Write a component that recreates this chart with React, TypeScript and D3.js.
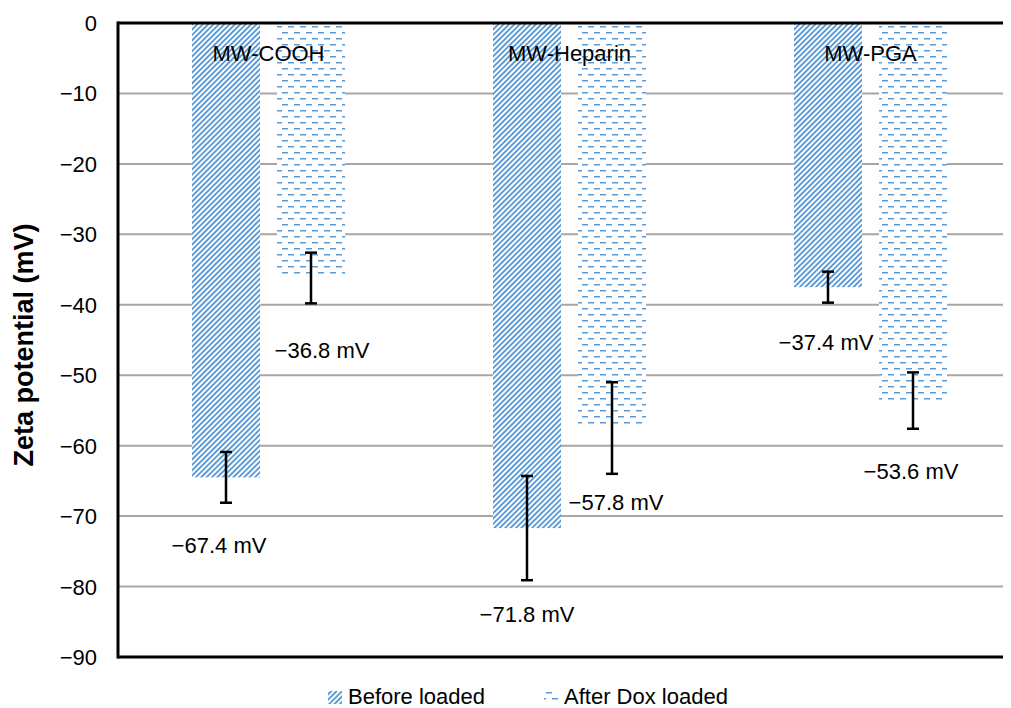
import { useEffect, useRef } from 'react';
import * as d3 from 'd3';

const categories = ['MW-COOH', 'MW-Heparin', 'MW-PGA'];
const seriesNames = ['Before loaded', 'After Dox loaded'];
const beforeValues = [-64.5, -71.7, -37.5];
const afterValues = [-36.2, -57.5, -53.6];
const beforeErrors = [3.6, 7.4, 2.2];
const afterErrors = [3.6, 6.5, 4.0];
const beforeLabels = ['\u221267.4 mV', '\u221271.8 mV', '\u221237.4 mV'];
const afterLabels = ['\u221236.8 mV', '\u221257.8 mV', '\u221253.6 mV'];
const yTicks = [0, -10, -20, -30, -40, -50, -60, -70, -80, -90];

export default function App() {
  const svgRef = useRef<SVGSVGElement>(null);

  useEffect(() => {
    if (!svgRef.current) return;
    const width = 1011;
    const height = 708;
    const svg = d3.select(svgRef.current);
    svg.selectAll('*').remove();
    svg.attr('width', width).attr('height', height);

    const font = '"Liberation Sans", Arial, sans-serif';
    const fs = 22;
    const blue = '#5b9bd5';
    const left = 118;
    const right = 1021;
    const top = 23;
    const bottom = 657;

    const defs = svg.append('defs');
    // diagonal stripes
    const p1 = defs.append('pattern')
      .attr('id', 'stripes')
      .attr('patternUnits', 'userSpaceOnUse')
      .attr('width', 3.8)
      .attr('height', 3.8)
      .attr('patternTransform', 'rotate(45)');
    p1.append('rect').attr('width', 3.8).attr('height', 3.8).attr('fill', '#fff');
    p1.append('rect').attr('x', 0).attr('width', 1.9).attr('height', 3.8).attr('fill', blue);

    // dashed horizontal
    const p2 = defs.append('pattern')
      .attr('id', 'dashes')
      .attr('patternUnits', 'userSpaceOnUse')
      .attr('width', 12)
      .attr('height', 12);
    p2.append('rect').attr('width', 12).attr('height', 12).attr('fill', '#fff');
    p2.append('rect').attr('x', 0).attr('y', 2).attr('width', 6).attr('height', 1.5).attr('fill', blue);
    p2.append('rect').attr('x', 6).attr('y', 8).attr('width', 6).attr('height', 1.5).attr('fill', blue);

    const y = d3.scaleLinear().domain([0, -90]).range([top, bottom]);
    const x0 = d3.scaleBand<string>().domain(categories).range([left, right]).paddingInner(0).paddingOuter(0);
    const barW = 68;
    const gap = 17;
    const groupW = barW * 2 + gap;

    const g = svg.append('g');

    // gridlines
    g.selectAll('line.grid')
      .data(yTicks.filter((t) => t !== 0 && t !== -90))
      .enter()
      .append('line')
      .attr('x1', left)
      .attr('x2', right)
      .attr('y1', (d) => y(d))
      .attr('y2', (d) => y(d))
      .attr('stroke', '#a6a6a6')
      .attr('stroke-width', 2);

    const series = [
      { vals: beforeValues, errs: beforeErrors, labels: beforeLabels, fill: 'url(#stripes)' },
      { vals: afterValues, errs: afterErrors, labels: afterLabels, fill: 'url(#dashes)' },
    ];

    // label offsets relative to bar centre / bar end
    const labelOffsets = [
      [[-7, 76], [0, 94], [-2, 63]],
      [[11, 80], [4, 82], [-2, 78]],
    ];

    series.forEach((s, si) => {
      categories.forEach((c, ci) => {
        const gx = (x0(c) as number) + (x0.bandwidth() - groupW) / 2 + si * (barW + gap);
        const v = s.vals[ci];
        g.append('rect')
          .attr('x', gx)
          .attr('y', y(0))
          .attr('width', barW)
          .attr('height', y(v) - y(0))
          .attr('fill', s.fill);
      });
    });

    // category labels
    categories.forEach((c) => {
      g.append('text')
        .attr('x', (x0(c) as number) + x0.bandwidth() / 2)
        .attr('y', 61)
        .attr('text-anchor', 'middle')
        .attr('font-family', font)
        .attr('font-size', fs)
        .attr('fill', '#000')
        .text(c);
    });

    // error bars and value labels
    series.forEach((s, si) => {
      categories.forEach((c, ci) => {
        const gx = (x0(c) as number) + (x0.bandwidth() - groupW) / 2 + si * (barW + gap);
        const cx = gx + barW / 2;
        const v = s.vals[ci];
        const e = s.errs[ci];
        g.append('line')
          .attr('x1', cx).attr('x2', cx)
          .attr('y1', y(v + e)).attr('y2', y(v - e))
          .attr('stroke', '#000').attr('stroke-width', 2.5);
        [v + e, v - e].forEach((ev) => {
          g.append('line')
            .attr('x1', cx - 6).attr('x2', cx + 6)
            .attr('y1', y(ev)).attr('y2', y(ev))
            .attr('stroke', '#000').attr('stroke-width', 2.5);
        });
        const [dx, dy] = labelOffsets[si][ci];
        g.append('text')
          .attr('x', cx + dx)
          .attr('y', y(v) + dy)
          .attr('text-anchor', 'middle')
          .attr('font-family', font)
          .attr('font-size', fs)
          .attr('fill', '#000')
          .text(s.labels[ci]);
      });
    });

    // axes lines
    g.append('line')
      .attr('x1', left).attr('x2', right)
      .attr('y1', top).attr('y2', top)
      .attr('stroke', '#000').attr('stroke-width', 3);
    g.append('line')
      .attr('x1', left).attr('x2', right)
      .attr('y1', bottom).attr('y2', bottom)
      .attr('stroke', '#000').attr('stroke-width', 3);
    g.append('line')
      .attr('x1', left).attr('x2', left)
      .attr('y1', top - 1.5).attr('y2', bottom + 1.5)
      .attr('stroke', '#000').attr('stroke-width', 3);

    // y tick labels
    g.selectAll('text.tick')
      .data(yTicks)
      .enter()
      .append('text')
      .attr('x', 97)
      .attr('y', (d) => y(d) + 8)
      .attr('text-anchor', 'end')
      .attr('font-family', font)
      .attr('font-size', fs)
      .attr('fill', '#000')
      .text((d) => (d === 0 ? '0' : '\u2212' + Math.abs(d)));

    // y axis title
    svg.append('text')
      .attr('transform', `translate(33, 345) rotate(-90)`)
      .attr('text-anchor', 'middle')
      .attr('font-family', font)
      .attr('font-size', 27)
      .attr('font-weight', 'bold')
      .attr('fill', '#000')
      .text('Zeta potential (mV)');

    // legend
    const legend = svg.append('g');
    const legendItems = [
      { x: 328, fill: 'url(#stripes)' },
      { x: 544, fill: 'url(#dashes)' },
    ];
    legendItems.forEach((it, i) => {
      legend.append('rect')
        .attr('x', it.x)
        .attr('y', 691)
        .attr('width', 14)
        .attr('height', 13)
        .attr('fill', it.fill);
      legend.append('text')
        .attr('x', it.x + 20)
        .attr('y', 704)
        .attr('font-family', font)
        .attr('font-size', fs)
        .attr('fill', '#000')
        .text(seriesNames[i]);
    });
  }, []);

  return (
    <div style={{ position: 'relative', top: -8, left: -8, width: 1011, height: 708 }}>
      <svg ref={svgRef} style={{ display: 'block' }} />
    </div>
  );
}
